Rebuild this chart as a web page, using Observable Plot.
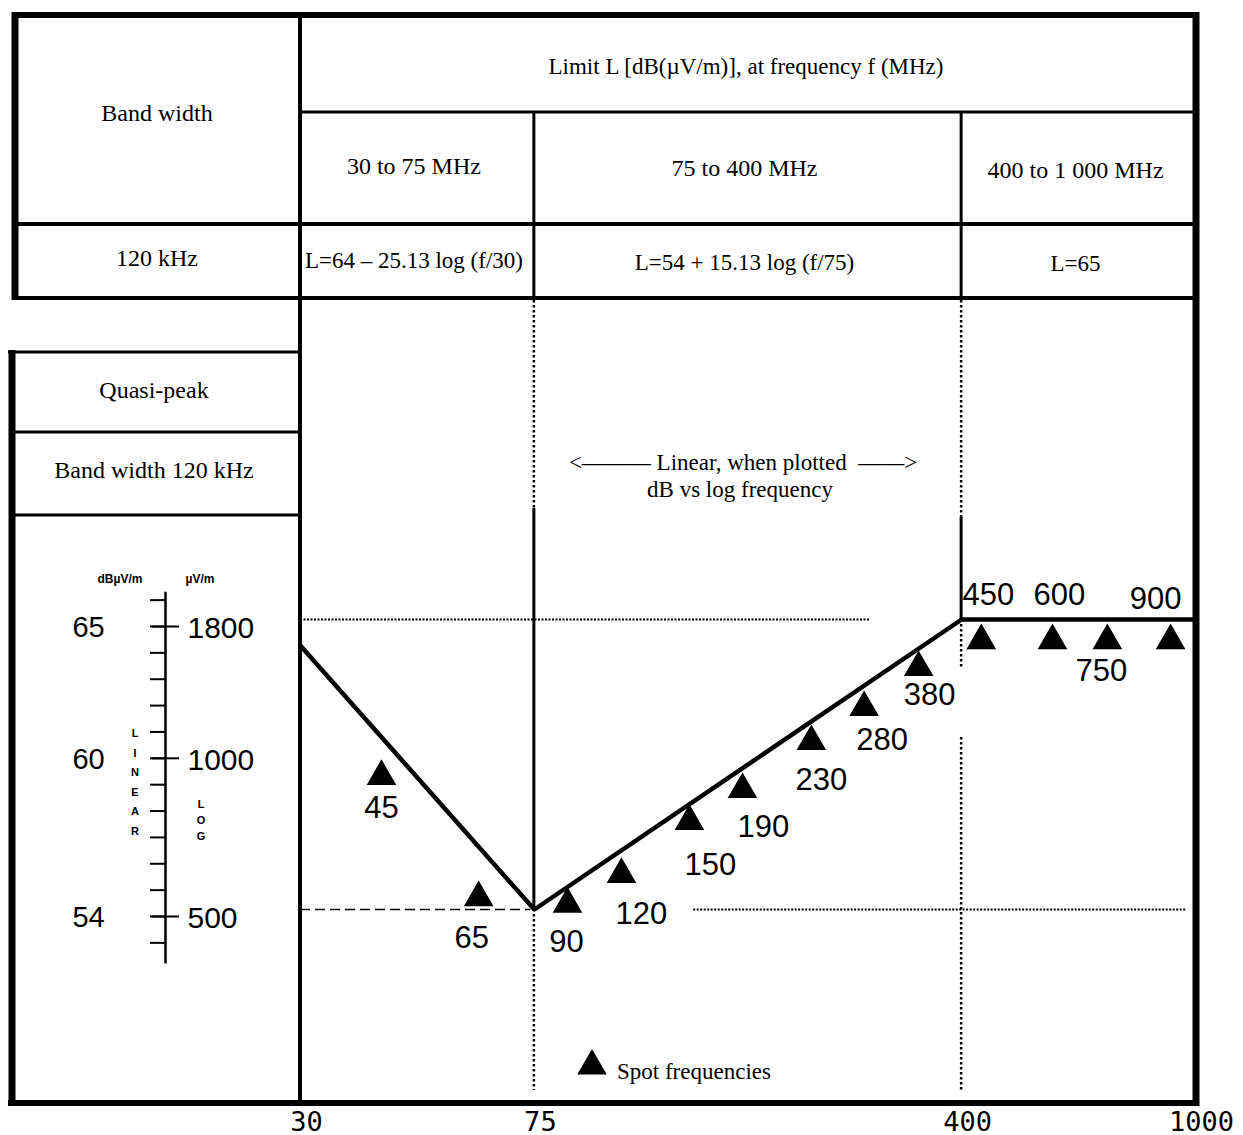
<!DOCTYPE html>
<html>
<head>
<meta charset="utf-8">
<script src="https://cdn.jsdelivr.net/npm/d3@7"></script>
<script src="https://cdn.jsdelivr.net/npm/@observablehq/plot@0.6"></script>
<style>
  body { margin: 0; background: #fff; }
  #chart { width: 1243px; height: 1135px; }
</style>
</head>
<body>
<div id="chart"></div>
<script>
// ---------------- data ----------------
const limitFreq  = [30, 75, 400, 1000];          // MHz
const limitLevel = [64, 54, 65, 65];             // dB(µV/m)

const spotFreq     = [45, 65, 90, 120, 150, 190, 230, 280, 380, 450, 600, 750, 900];      // nominal spot frequencies (labels)
const spotAxisFreq = [41.2, 60.3, 85.4, 105.5, 137.7, 169.5, 222, 273, 338, 432, 571, 708, 907]; // where each triangle sits on the log axis
const spotLevel    = [59.05, 54.45, 54.2, 55.33, 57.34, 58.55, 60.37, 61.66, 63.18, 64.2, 64.2, 64.2, 64.2];

const xTicks   = [30, 75, 400, 1000];
const dbTicks  = [54, 60, 65];
const uvLabels = ["500", "1000", "1800"];
const dbMinor  = d3.range(53, 67);

const bandNames    = ["30 to 75 MHz", "75 to 400 MHz", "400 to 1 000 MHz"];
const bandFormulas = ["L=64 – 25.13 log (f/30)", "L=54 + 15.13 log (f/75)", "L=65"];

// ---------------- rendering config ----------------
const W = 1243, H = 1135;
const serif = "'Liberation Serif', 'DejaVu Serif', serif";
const sans = "'Liberation Sans', Arial, sans-serif";
const mono = "'DejaVu Sans Mono', monospace";

// label offsets (px) from each triangle
const labelOffset = {45:[0,32],65:[-7,40],90:[-1,38],120:[20,40],150:[21,44],190:[21,38],
  230:[10,39],280:[18,33],380:[11,28],450:[7,-46],600:[7,-46],750:[-6,30],900:[-15,-42]};

const spots = spotFreq.map((f, i) => ({label: String(f), f: spotAxisFreq[i], level: spotLevel[i]}));
const limit = limitFreq.map((f, i) => ({f, level: limitLevel[i]}));
const dbLabels = dbTicks.map((d, i) => ({db: d, uv: uvLabels[i]}));

const labelMarks = spots.map(s => Plot.text([s], {
  x: "f", y: "level", text: "label",
  dx: labelOffset[+s.label][0], dy: labelOffset[+s.label][1],
  fontSize: 31, fontFamily: sans, fill: "black"
}));

const plot = Plot.plot({
  width: W, height: H,
  marginLeft: 300, marginRight: 48, marginTop: 298, marginBottom: 32,
  x: {type: "log", domain: [30, 1000], range: [300, 1195], axis: null, label: null},
  y: {domain: [54, 65], range: [909, 619], axis: null, label: null},
  style: {background: "white", overflow: "visible", color: "black"},
  marks: [
    // guide lines
    Plot.ruleY([65], {x1: 30, x2: 280, stroke: "black", strokeWidth: 2, strokeDasharray: "2,1.5"}),
    Plot.ruleY([54], {x1: 30, x2: 74, stroke: "black", strokeWidth: 1.5, strokeDasharray: "10,5"}),
    Plot.ruleY([54], {x1: 140, x2: 967, stroke: "black", strokeWidth: 2, strokeDasharray: "2,1.5"}),
    // limit line
    Plot.line(limit, {x: "f", y: "level", stroke: "black", strokeWidth: 4.5, strokeLinejoin: "miter"}),
    // spot frequencies
    Plot.dot(spots, {x: "f", y: "level", symbol: "triangle", r: 11, fill: "black", stroke: "none"}),
    ...labelMarks,
    // bottom frequency labels
    Plot.text(xTicks, {x: d => d, text: d => String(d), frameAnchor: "bottom", lineAnchor: "middle",
      dx: 6, dy: 19, fontSize: 27, fontFamily: mono, textAnchor: "middle"}),
    // left dual scale
    Plot.ruleX([30], {y1: 52.2, y2: 66.3, dx: -135, dy: 7, stroke: "black", strokeWidth: 2.5}),
    Plot.axisY(dbMinor, {anchor: "left", tickSize: 15, dx: -135, dy: 7, strokeWidth: 2, tickFormat: () => "", label: null}),
    Plot.axisY(dbTicks, {anchor: "left", tickSize: 27, dx: -121, dy: 7, strokeWidth: 2, tickFormat: () => "", label: null}),
    Plot.text(dbLabels, {y: "db", text: d => String(d.db), frameAnchor: "left", dx: -212, dy: 8,
      fontSize: 29, fontFamily: sans, textAnchor: "middle"}),
    Plot.text(dbLabels, {y: "db", text: "uv", frameAnchor: "left", dx: -113, dy: 9,
      fontSize: 30, fontFamily: sans, textAnchor: "start"})
  ]
});

document.getElementById("chart").appendChild(plot);

// ---------------- table, frame & annotations ----------------
const xs = plot.scale("x"), ys = plot.scale("y");
const x75 = xs.apply(75), x400 = xs.apply(400);
const y54 = ys.apply(54), y65 = ys.apply(65);
const svg = d3.select(plot);
const g = svg.append("g").attr("stroke", "black").attr("fill", "none");

function ln(x1, y1, x2, y2, w, dash) {
  const l = g.append("line").attr("x1", x1).attr("y1", y1).attr("x2", x2).attr("y2", y2)
    .attr("stroke-width", w);
  if (dash) l.attr("stroke-dasharray", dash);
}
const t = svg.append("g").attr("fill", "black");
function tx(x, y, s, size, family, anchor = "middle", weight = "normal") {
  t.append("text").attr("x", x).attr("y", y).attr("font-size", size).attr("font-family", family)
    .attr("text-anchor", anchor).attr("font-weight", weight).text(s);
}

// top table
ln(12, 15, 1199, 15, 6);
ln(15, 12, 15, 300, 7);
ln(1196, 12, 1196, 1106, 7);
ln(300, 112, 1196, 112, 3);
ln(12, 224, 1196, 224, 4);
ln(12, 298, 1199, 298, 4);
ln(300, 12, 300, 1106, 4);
ln(x75, 112, x75, 298, 3);
ln(x400, 112, x400, 298, 3);

// lower-left panel
ln(8, 352, 300, 352, 3);
ln(12, 350, 12, 1106, 7);
ln(12, 432, 300, 432, 3);
ln(12, 515, 300, 515, 3);
// bottom frame
ln(8, 1103, 1199, 1103, 6);

// band boundaries inside the plot
ln(x75, 300, x75, 508, 2.5, "2.5,2.5");
ln(x75, 508, x75, y54, 3);
ln(x75, y54, x75, 1090, 2.5, "2.5,2.5");
ln(x400, 300, x400, 517, 2.5, "2.5,2.5");
ln(x400, 517, x400, y65, 3);
ln(x400, y65, x400, 667, 2.5, "2.5,2.5");
ln(x400, 737, x400, 1090, 2.5, "2.5,2.5");

// table texts
tx(157, 121, "Band width", 24, serif);
tx(746, 74, "Limit L [dB(µV/m)], at frequency f (MHz)", 23, serif);
const colCenters = [(300 + x75) / 2, (x75 + x400) / 2, (x400 + 1196) / 2];
const rowY1 = [174, 176, 178];
bandNames.forEach((s, i) => tx(colCenters[i] - 3, rowY1[i], s, 24, serif));
tx(157, 266, "120 kHz", 24, serif);
const rowY2 = [268, 270, 271];
bandFormulas.forEach((s, i) => tx(colCenters[i] - 3, rowY2[i], s, 23, serif));
tx(154, 398, "Quasi-peak", 24, serif);
tx(154, 478, "Band width 120 kHz", 24, serif);

// scale headers
tx(120, 583, "dBµV/m", 12, sans, "middle", "bold");
tx(200, 583, "µV/m", 12, sans, "middle", "bold");
"LINEAR".split("").forEach((c, i) => tx(135, 737 + i * 19.5, c, 11, sans, "middle", "bold"));
"LOG".split("").forEach((c, i) => tx(201, 808 + i * 16, c, 11, sans, "middle", "bold"));

// annotation
tx(743, 470, "<——— Linear, when plotted  ——>", 23, serif);
tx(740, 497, "dB vs log frequency", 23, serif);

// legend
svg.append("path").attr("d", d3.symbol(d3.symbolTriangle, 380)())
  .attr("transform", "translate(592,1066)").attr("fill", "black");
tx(617, 1079, "Spot frequencies", 23, serif, "start");
</script>
</body>
</html>
